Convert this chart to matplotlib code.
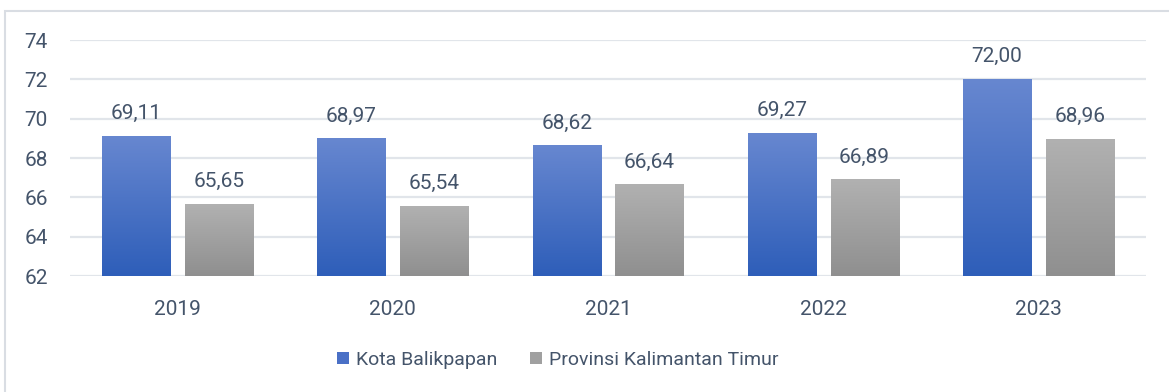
import numpy as np
import matplotlib
matplotlib.use('Agg')
import matplotlib.pyplot as plt
from matplotlib.colors import LinearSegmentedColormap
from matplotlib.patches import Patch, Rectangle

# ── Data ───────────────────────────────────────────────────────────────────────
YEARS = ['2019', '2020', '2021', '2022', '2023']
KOTA = [69.11, 68.97, 68.62, 69.27, 72.00]
PROV = [65.65, 65.54, 66.64, 66.89, 68.96]
SERIES_NAMES = ['Kota Balikpapan', 'Provinsi Kalimantan Timur']
Y_TICKS = [62, 64, 66, 68, 70, 72, 74]

# ── Style ──────────────────────────────────────────────────────────────────────
TEXT_COLOR = '#44546A'
GRID_COLOR = '#E1E5EA'
BLUE_TOP, BLUE_BOT = '#6787D0', '#2E5EB9'
GRAY_TOP, GRAY_BOT = '#B1B1B1', '#8F8F8F'
BAR_W = 0.316
OFFSET = 0.192
BASE = 62

plt.rcParams['font.family'] = ['Roboto', 'DejaVu Sans']


def gradient_bar(ax, x, val, width, top, bot):
    cmap = LinearSegmentedColormap.from_list('g', [bot, top])
    grad = np.linspace(0, 1, 256).reshape(-1, 1)
    ax.imshow(grad, cmap=cmap, origin='lower', aspect='auto',
              extent=(x - width / 2, x + width / 2, BASE, val), zorder=2)


def fmt(v):
    return f'{v:.2f}'.replace('.', ',')


fig = plt.figure(figsize=(11.69, 3.92), dpi=100)
# outer chart frame
fig.patches.append(Rectangle((5 / 1169, -0.1), 1.2, 1 - 11 / 392 + 0.1,
                             transform=fig.transFigure, fill=False,
                             edgecolor='#D9DDE3', linewidth=1.5, zorder=0))

ax = fig.add_axes([70 / 1169, 1 - 276 / 392, (1146 - 70) / 1169, (276 - 40) / 392])

xs = np.arange(len(YEARS))
for i, x in enumerate(xs):
    for val, dx, top, bot in [(KOTA[i], -OFFSET, BLUE_TOP, BLUE_BOT),
                              (PROV[i], OFFSET, GRAY_TOP, GRAY_BOT)]:
        gradient_bar(ax, x + dx, val, BAR_W, top, bot)
        ax.annotate(fmt(val), (x + dx, val), xytext=(0, 9.5),
                    textcoords='offset points', ha='center', va='bottom',
                    fontsize=15, color=TEXT_COLOR)

ax.set_xlim(-0.5, len(YEARS) - 0.5)
ax.set_ylim(BASE, 74)
ax.set_yticks(Y_TICKS)
ax.set_xticks(xs)
ax.set_xticklabels(YEARS)
ax.grid(axis='y', color=GRID_COLOR, linewidth=1.6, zorder=0)
ax.set_axisbelow(True)
for s in ax.spines.values():
    s.set_visible(False)
ax.tick_params(axis='both', length=0, labelsize=15, labelcolor=TEXT_COLOR)
ax.tick_params(axis='y', pad=16)
ax.tick_params(axis='x', pad=17)

handles = [Patch(facecolor='#4A70C6', label=SERIES_NAMES[0]),
           Patch(facecolor='#A0A0A0', label=SERIES_NAMES[1])]
fig.legend(handles=handles, loc='center', bbox_to_anchor=(0.477, 0.082),
           ncol=2, frameon=False, fontsize=14, labelcolor=TEXT_COLOR,
           handlelength=0.6, handleheight=0.6, handletextpad=0.35,
           columnspacing=1.7)

fig.savefig('out.png', dpi=100)
